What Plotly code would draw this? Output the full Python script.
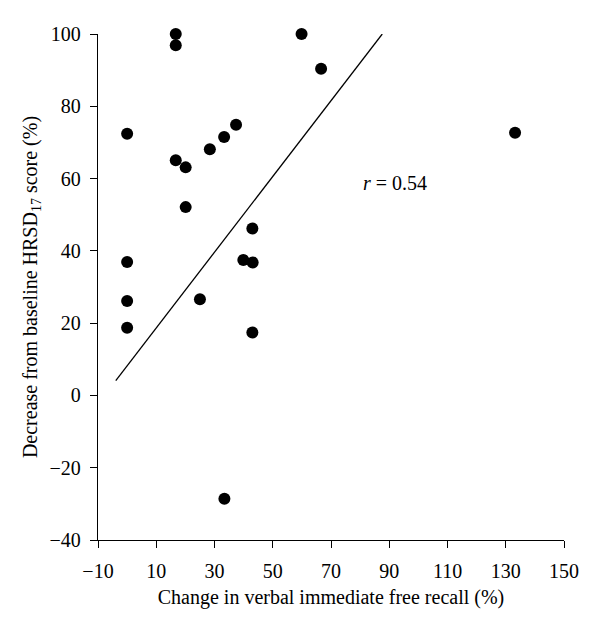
import plotly.graph_objects as go

recall_change = [0, 0, 0, 0, 16.7, 16.7, 16.7, 20.1, 20.1, 28.4, 33.3, 37.4, 25.0,
                 43.0, 39.9, 43.1, 43.0, 33.4, 59.9, 66.6, 133.2]
hrsd_decrease = [72.4, 36.9, 26.1, 18.7, 100.0, 96.9, 65.1, 63.1, 52.1, 68.1, 71.5, 74.9, 26.6,
                 46.2, 37.5, 36.8, 17.4, -28.6, 100.0, 90.4, 72.7]
fit_x = [-3.9, 87.6]
fit_y = [4.1, 100.0]
x_ticks = [-10, 10, 30, 50, 70, 90, 110, 130, 150]
x_tick_labels = ["\u221210", "10", "30", "50", "70", "90", "110", "130", "150"]
y_ticks = [-40, -20, 0, 20, 40, 60, 80, 100]
y_tick_labels = ["\u221240", "\u221220", "0", "20", "40", "60", "80", "100"]

FONT = "Liberation Serif"
FS = 20

fig = go.Figure()
fig.add_trace(go.Scatter(x=fit_x, y=fit_y, mode="lines",
                         line=dict(color="black", width=1.3), showlegend=False,
                         cliponaxis=False))
fig.add_trace(go.Scatter(x=recall_change, y=hrsd_decrease, mode="markers",
                         marker=dict(color="black", size=12), showlegend=False,
                         cliponaxis=False))

fig.add_annotation(x=92, y=58.7, xref="x", yref="y",
                   text="<i>r</i> = 0.54", showarrow=False,
                   font=dict(family=FONT, size=FS, color="black"))

axis_common = dict(showgrid=False, zeroline=False, showline=True, linecolor="black",
                   linewidth=1.3, ticks="outside", ticklen=7, tickcolor="black",
                   tickwidth=1.3, tickfont=dict(family=FONT, size=FS, color="black"))

fig.update_xaxes(range=[-10, 150], tickvals=x_ticks, ticktext=x_tick_labels,
                 ticklabelstandoff=6,
                 title=dict(text="Change in verbal immediate free recall (%)",
                            font=dict(family=FONT, size=FS, color="black"), standoff=8),
                 **axis_common)
fig.update_yaxes(range=[-40, 100], tickvals=y_ticks, ticktext=y_tick_labels,
                 ticklabelstandoff=5,
                 title=dict(text="Decrease from baseline HRSD<sub>17</sub> score (%)",
                            font=dict(family=FONT, size=FS, color="black"), standoff=6),
                 **axis_common)

fig.update_layout(width=592, height=624, plot_bgcolor="white", paper_bgcolor="white",
                  margin=dict(l=90, r=36, t=26, b=92, autoexpand=False),
                  font=dict(family=FONT, color="black"))

fig.write_html("out.html")
